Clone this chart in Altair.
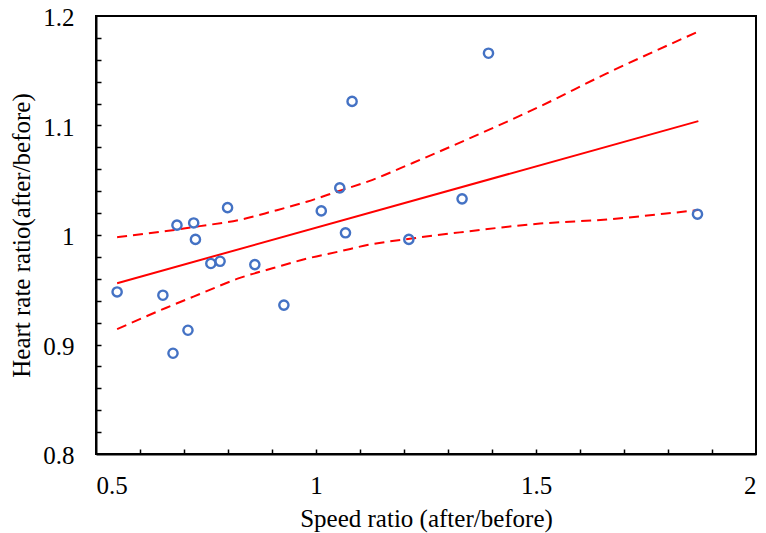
import altair as alt
import pandas as pd

# Scatter data
speed = [0.548, 0.652, 0.675, 0.684, 0.709, 0.722, 0.726, 0.761, 0.782, 0.799,
         0.861, 0.927, 1.012, 1.054, 1.067, 1.082, 1.211, 1.332, 1.392, 1.867]
hr = [0.948, 0.945, 0.892, 1.009, 0.913, 1.011, 0.996, 0.974, 0.976, 1.025,
      0.973, 0.936, 1.022, 1.043, 1.002, 1.122, 0.996, 1.033, 1.166, 1.019]

# Regression line end points
fit_x = [0.548, 1.869]
fit_y = [0.956, 1.104]

# Confidence band (read at several positions)
band_x = [0.548, 0.66, 0.736, 0.827, 0.903, 0.979, 1.0545, 1.119, 1.221, 1.327,
          1.509, 1.661, 1.812, 1.869]
upper = [0.998, 1.0036, 1.0081, 1.0138, 1.0218, 1.0304, 1.0405, 1.049, 1.066,
         1.0844, 1.1174, 1.1476, 1.1755, 1.1858]
lower = [0.914, 0.9336, 0.9461, 0.9608, 0.9698, 0.9784, 0.9851, 0.991, 0.997,
         1.0024, 1.0104, 1.0142, 1.0203, 1.0228]

x_major = [0.5, 1.0, 1.5, 2.0]
x_minor = [0.6, 0.7, 0.8, 0.9, 1.0, 1.1, 1.2, 1.3, 1.4, 1.5, 1.6, 1.7, 1.8, 1.9]
y_major = [0.8, 0.9, 1.0, 1.1, 1.2]
y_minor = [0.82, 0.84, 0.86, 0.88, 0.9, 0.92, 0.94, 0.96, 0.98, 1.0, 1.02, 1.04,
           1.06, 1.08, 1.1, 1.12, 1.14, 1.16, 1.18]

FONT = "Liberation Serif"
FS = 25
W, H = 660, 438

pts = pd.DataFrame({"x": speed, "y": hr})
fit = pd.DataFrame({"x": fit_x, "y": fit_y})
up = pd.DataFrame({"x": band_x, "y": upper})
lo = pd.DataFrame({"x": band_x, "y": lower})

xs = alt.Scale(domain=[0.5, 2.0], nice=False, zero=False)
ys = alt.Scale(domain=[0.8, 1.2], nice=False, zero=False)

x_main_axis = alt.Axis(orient="bottom", values=x_major, format="~g", ticks=False,
                       grid=False, domain=True, domainColor="black", domainWidth=2,
                       labelFont=FONT, labelFontSize=FS, labelColor="black",
                       labelPadding=19, title="Speed ratio (after/before)",
                       titleFont=FONT, titleFontSize=FS, titleFontWeight="normal",
                       titleColor="black", titlePadding=8)
y_main_axis = alt.Axis(orient="left", values=y_major, format="~g", ticks=False,
                       grid=False, domain=True, domainColor="black", domainWidth=2,
                       labelFont=FONT, labelFontSize=FS, labelColor="black",
                       labelPadding=22, labelOffset=1.5,
                       title="Heart rate ratio(after/before)",
                       titleFont=FONT, titleFontSize=FS, titleFontWeight="normal",
                       titleColor="black", titlePadding=8)
x_tick_axis = alt.Axis(orient="top", offset=-H, values=x_minor, labels=False,
                       domain=False, ticks=True, tickSize=5, tickWidth=1.5,
                       tickColor="black", grid=False, title="")
y_tick_axis = alt.Axis(orient="right", offset=-W, values=y_minor, labels=False,
                       domain=False, ticks=True, tickSize=5, tickWidth=1.5,
                       tickColor="black", grid=False, title="")

points = alt.Chart(pts).mark_point(shape="circle", filled=False, size=85,
                                   strokeWidth=2.4, color="#4472C4", opacity=1).encode(
    x=alt.X("x:Q", scale=xs, axis=x_main_axis),
    y=alt.Y("y:Q", scale=ys, axis=y_main_axis),
)

fit_line = alt.Chart(fit).mark_line(color="#FF0000", strokeWidth=2).encode(
    x=alt.X("x:Q", scale=xs, axis=x_tick_axis),
    y=alt.Y("y:Q", scale=ys, axis=y_tick_axis),
)

up_line = alt.Chart(up).mark_line(color="#FF0000", strokeWidth=2,
                                  strokeDash=[10, 6], interpolate="monotone").encode(
    x=alt.X("x:Q", scale=xs, axis=None),
    y=alt.Y("y:Q", scale=ys, axis=None),
)
lo_line = alt.Chart(lo).mark_line(color="#FF0000", strokeWidth=2,
                                  strokeDash=[10, 6], interpolate="monotone").encode(
    x=alt.X("x:Q", scale=xs, axis=None),
    y=alt.Y("y:Q", scale=ys, axis=None),
)

chart = alt.layer(up_line, lo_line, fit_line, points).resolve_axis(
    x="independent", y="independent"
).properties(
    width=W, height=H,
    autosize=alt.AutoSizeParams(type="none"),
    padding={"left": 88, "top": 8, "right": 2, "bottom": 79},
    background="white",
).configure_view(stroke="black", strokeWidth=2)

chart.save("out.html", embed_options={"renderer": "svg", "actions": False})
